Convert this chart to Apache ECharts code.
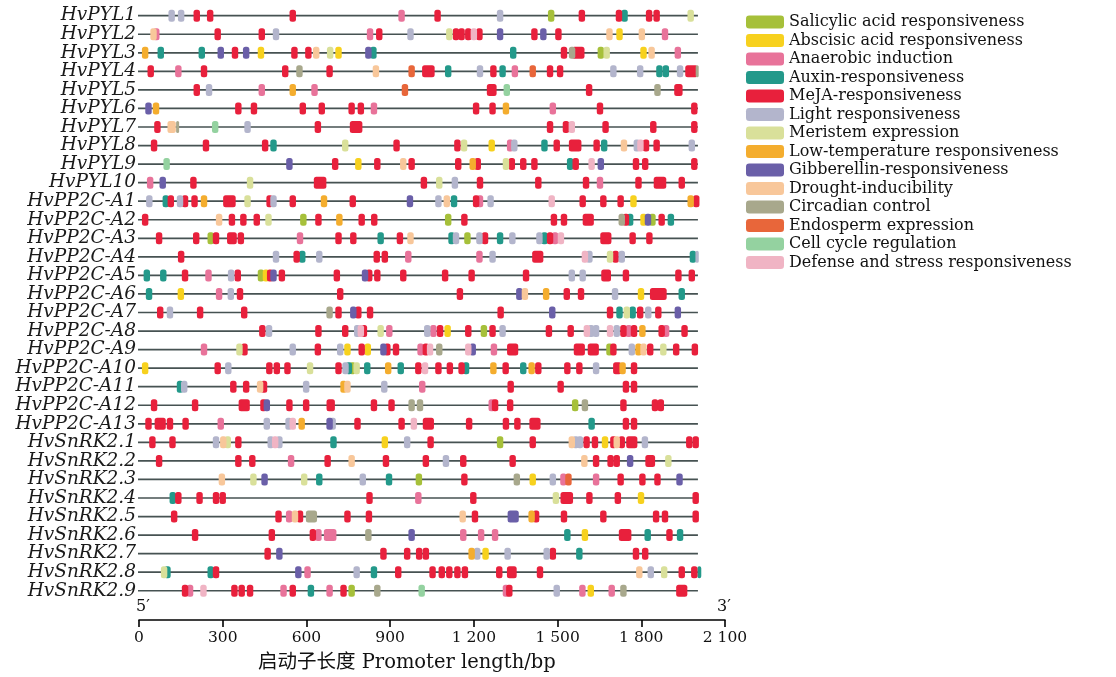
<!DOCTYPE html>
<html><head><meta charset="utf-8">
<script src="https://cdn.jsdelivr.net/npm/echarts@6/dist/echarts.min.js"></script>
<style>html,body{margin:0;background:#fff}#c{width:1116px;height:677px}</style></head>
<body><div id="c"></div>
<script>
// element type codes
const SA=0,ABA=1,AN=2,AUX=3,ME=4,LI=5,MER=6,LT=7,GA=8,DR=9,CI=10,EN=11,CC=12,DE=13;
const typeNames=['Salicylic acid responsiveness','Abscisic acid responsiveness','Anaerobic induction','Auxin-responsiveness','MeJA-responsiveness','Light responsiveness','Meristem expression','Low-temperature responsiveness','Gibberellin-responsiveness','Drought-inducibility','Circadian control','Endosperm expression','Cell cycle regulation','Defense and stress responsiveness'];
const typeColors=['#a6c03a','#f7d11e','#e8739a','#23998a','#e8203c','#b3b5cc','#d9e09a','#f4ad2e','#6a5fa8','#f8c79a','#a8a88c','#e8663a','#94d2a0','#f0b4c4'];

const genes=['HvPYL1','HvPYL2','HvPYL3','HvPYL4','HvPYL5','HvPYL6','HvPYL7','HvPYL8','HvPYL9','HvPYL10',
'HvPP2C-A1','HvPP2C-A2','HvPP2C-A3','HvPP2C-A4','HvPP2C-A5','HvPP2C-A6','HvPP2C-A7','HvPP2C-A8','HvPP2C-A9','HvPP2C-A10','HvPP2C-A11','HvPP2C-A12','HvPP2C-A13',
'HvSnRK2.1','HvSnRK2.2','HvSnRK2.3','HvSnRK2.4','HvSnRK2.5','HvSnRK2.6','HvSnRK2.7','HvSnRK2.8','HvSnRK2.9'];
const promoterLength=2003;
const xTicks=[0,300,600,900,1200,1500,1800,2100];
const axisTitle='启动子长度 Promoter length/bp';

// [position bp, element type, (optional) span bp]
const PYL1=[[117,LI],[151,LI],[207,ME],[255,ME],[551,ME],[941,AN],[1070,ME],[1294,LI],[1477,SA],[1587,ME],[1720,ME],[1740,AUX],[1828,ME],[1855,ME],[1977,MER]];
const PYL2=[[52,DR],[62,AN],[282,ME],[440,ME],[491,LI],[828,AN],[861,ME],[973,LI],[1112,MER],[1136,ME],[1156,ME],[1180,ME],[1200,DE],[1220,ME],[1294,GA],[1417,ME],[1449,GA],[1503,ME],[1686,DR],[1722,ABA],[1802,DR],[1885,AN]];
const PYL3=[[22,LT],[78,AUX],[225,AUX],[293,GA],[344,ME],[384,GA],[437,ABA],[557,ME],[607,ME],[635,DR],[685,MER],[715,ABA],[822,GA],[840,AUX],[1341,AUX],[1523,ME],[1552,CI],[1574,ME,45],[1655,SA],[1676,MER],[1808,ABA],[1837,DR],[1931,AN]];
const PYL4=[[42,ME],[141,AN],[233,ME],[524,ME],[575,CI],[683,ME],[849,DR],[977,EN],[1037,ME,45],[1108,AUX],[1222,LI],[1270,ME],[1303,AUX],[1347,AN],[1411,EN],[1473,ME],[1509,ME],[1700,LI],[1796,LI],[1865,AUX],[1888,AUX],[1939,LI],[1980,ME,45],[2000,CI,10]];
const PYL5=[[207,ME],[251,LI],[440,AN],[551,LT],[629,AN],[953,EN],[1264,ME,35],[1318,CC],[1613,ME],[1858,CI],[1933,ME,30]];
const PYL6=[[34,GA],[61,LT],[356,ME],[412,ME],[587,ME],[655,ME],[762,ME],[795,ME],[842,AN],[1208,ME],[1267,ME],[1315,LT],[1483,AN],[1652,ME],[1990,ME]];
const PYL7=[[66,ME],[117,DR,30],[138,CI,10],[273,CC],[389,LI],[641,ME],[778,ME,45],[1473,ME],[1530,ME],[1551,DE],[1672,ME],[1843,ME],[1990,ME]];
const PYL8=[[54,ME],[240,ME],[452,ME],[482,AUX],[739,MER],[923,ME],[1141,ME],[1165,MER],[1264,ABA],[1330,AN],[1345,LI],[1453,AUX],[1497,ME],[1563,ME,45],[1640,ME],[1667,AUX],[1738,DR],[1784,LI],[1797,DE],[1817,ME],[1855,ME],[1981,LI]];
const PYL9=[[99,CC],[539,GA],[703,ME],[786,ABA],[854,ME],[947,DR],[977,ME],[1144,ME],[1196,LT],[1214,ME],[1315,MER],[1336,ME],[1377,ME],[1417,ME],[1545,AUX],[1565,ME],[1622,DE],[1655,GA],[1781,ME],[1814,ME],[1990,ME]];
const PYL10=[[40,AN],[85,GA],[195,ME],[398,MER],[649,ME,45],[1021,ME],[1076,MER],[1132,LI],[1222,ME],[1431,ME],[1602,ME],[1652,AN],[1790,ME],[1867,ME,45],[1945,ME]];
const A1=[[37,LI],[96,AUX],[114,ME],[147,LI],[165,ME],[199,ME],[233,LT],[324,ME,45],[389,MER],[468,ME],[482,LI],[551,ME],[663,LT],[766,ME],[971,GA],[1073,LI],[1103,DR],[1129,AUX],[1208,ME],[1222,AN],[1260,LI],[1479,DE],[1590,ME],[1664,ME],[1726,ME],[1772,ABA],[1977,LT],[1997,ME]];
const A2=[[22,ME],[287,DR],[333,ME],[374,ME],[422,ME],[464,MER],[589,SA],[643,ME],[718,LT],[798,ME],[843,ME],[1108,SA],[1166,ME],[1487,ME],[1523,ME],[1610,ME,40],[1730,CI],[1745,ME],[1760,AUX],[1808,ABA],[1824,GA],[1840,SA],[1873,ME],[1906,AUX]];
const A3=[[72,ME],[205,ME],[257,SA],[276,ME],[333,ME,35],[365,ME],[577,AN],[715,ME],[768,ME],[866,AUX],[935,ME],[973,DR],[1120,AUX],[1136,LI],[1177,SA],[1220,LI],[1240,ME],[1294,AUX],[1338,LI],[1435,LI],[1453,AUX],[1473,ME],[1491,AN],[1512,DE],[1673,ME,40],[1769,ME],[1829,ME]];
const A4=[[151,ME],[491,LI],[565,ME],[585,AUX],[646,LI],[852,ME],[881,ME],[965,AN],[1220,AN],[1267,LI],[1429,ME,40],[1598,DE],[1614,LI],[1688,MER],[1708,ME],[1730,LI],[1985,AUX],[2000,LI,12]];
const A5=[[28,AUX],[87,AUX],[165,ME],[249,AN],[330,LI],[354,ME],[437,SA],[455,ABA],[470,ME],[482,GA],[512,ME],[709,ME],[810,GA],[825,ME],[854,ME],[947,ME],[1097,ME],[1192,ME],[1387,ME],[1551,LI],[1590,LI],[1674,ME,35],[1745,ME],[1933,ME],[1981,ME]];
const A6=[[36,AUX],[150,ABA],[287,AN],[329,LI],[362,ME],[721,ME],[1150,ME],[1363,GA],[1383,DR],[1459,LT],[1533,ME],[1584,ME],[1706,LI],[1799,ABA],[1861,ME,60],[1945,AUX]];
const A7=[[76,ME],[111,LI],[219,ME],[377,ME],[683,CI],[715,ME],[768,GA],[786,ME],[828,ME],[1296,ME],[1481,GA],[1688,ME],[1722,AUX],[1748,MER],[1769,AUX],[1796,ME],[1825,LI],[1861,ME],[1931,GA]];
const A8=[[442,ME],[466,LI],[643,ME],[739,ME],[782,LI],[795,DE],[806,ME],[866,MER],[897,AN],[1033,LI],[1055,AN],[1079,ME],[1106,ABA],[1180,ME],[1236,SA],[1267,ME],[1303,LI],[1469,ME],[1547,ME],[1605,DE],[1620,LI],[1638,LI],[1688,DE],[1712,LI],[1736,ME],[1755,AN],[1774,ME],[1804,LT],[1873,ME],[1889,AN],[1955,ME]];
const A9=[[233,AN],[360,MER],[378,ME],[551,LI],[641,ME],[721,LI],[747,ABA],[798,ME],[820,ABA],[876,GA],[890,ME],[921,ME],[1009,AN],[1028,ME],[1043,DE],[1076,CI],[1180,DE],[1196,GA],[1272,AN],[1339,ME,40],[1578,ME,40],[1628,ME,40],[1686,SA],[1700,ME],[1766,LI],[1790,LT],[1808,DR],[1832,ME],[1879,MER],[1925,ME],[1992,ME]];
const A10=[[22,ABA],[282,ME],[320,LI],[467,ME],[494,ME],[532,ME],[613,MER],[715,ME],[740,LI],[752,AUX],[765,SA],[780,MER],[818,AUX],[893,LT],[938,AUX],[1001,ME],[1025,DE],[1073,ME],[1114,ME],[1156,ME],[1172,AUX],[1270,LT],[1314,ME],[1377,AUX],[1407,LT],[1431,ME],[1535,ME],[1578,ME],[1638,LI],[1714,ME,30],[1733,LT],[1774,ME]];
const A11=[[147,AUX],[162,LI],[338,ME],[384,ME],[434,DR],[448,ME],[599,LI],[733,LT],[747,DR],[879,LI],[1015,AN],[1332,ME],[1511,ME],[1745,ME],[1774,ME]];
const A12=[[54,ME],[201,ME],[377,ME,40],[446,ME],[458,GA],[539,ME],[599,ME],[687,ME,30],[842,ME],[905,ME],[977,CI],[1007,CI],[1264,AN],[1276,ME],[1330,ME],[1563,SA],[1598,CI],[1736,ME],[1849,ME],[1870,ME]];
const A13=[[34,ME],[76,ME,40],[111,ME],[167,ME],[293,AN],[458,LI],[536,LI],[551,DE],[583,LT],[683,GA],[694,LI],[783,ME],[941,ME],[985,DE],[1037,ME,40],[1183,ME],[1315,ME],[1356,ME],[1419,ME,40],[1622,AUX],[1745,ME],[1774,ME]];
const S1=[[48,ME],[120,ME],[276,LI],[302,DR],[318,MER],[356,ME],[472,LI],[488,DE],[503,LI],[697,AUX],[881,ABA],[961,LI],[1045,ME],[1294,SA],[1411,ME],[1551,DR],[1565,LI],[1580,LI],[1604,ME],[1634,ME],[1670,ABA],[1700,ME],[1712,DR],[1730,ME],[1766,ME,40],[1813,LI],[1972,ME],[1995,ME]];
const S2=[[72,ME],[356,ME],[406,ME],[545,AN],[676,ME],[762,DR],[885,ME],[1028,ME],[1100,LI],[1162,ME],[1339,ME],[1596,DR],[1638,ME],[1690,ME],[1712,ME],[1760,GA],[1832,ME,35],[1897,MER]];
const S3=[[297,DR],[410,MER],[450,GA],[592,MER],[646,AUX],[802,LI],[896,AUX],[1003,SA],[1166,ME],[1354,CI],[1411,ABA],[1483,LI],[1521,AN],[1539,EN],[1638,AN],[1726,ME],[1804,ME],[1858,ME],[1937,GA]];
const S4=[[121,AUX],[141,ME],[217,ME],[276,ME],[300,ME],[826,ME],[1001,AN],[1198,ME],[1494,MER],[1533,ME,45],[1614,ME],[1716,ME],[1799,ABA],[1995,ME]];
const S5=[[126,ME],[500,ME],[538,AN],[559,DR],[577,ME],[618,CI,40],[747,ME],[824,ME],[1160,DR],[1204,ME],[1341,GA,40],[1407,LT],[1423,ME],[1523,ME],[1664,ME],[1853,ME],[1885,ME],[1995,ME]];
const S6=[[201,ME],[476,ME],[623,ME],[643,AN],[685,AN,45],[822,CI],[977,GA],[1162,AN],[1226,AN],[1276,AN],[1535,AUX],[1598,ABA],[1742,ME,45],[1823,AUX],[1901,ME],[1939,AUX]];
const S7=[[461,ME],[503,GA],[876,ME],[961,ME],[1004,ME],[1028,ME],[1192,LT],[1212,LI],[1242,ABA],[1321,LI],[1461,LI],[1483,ME],[1578,AUX],[1781,ME],[1814,ME]];
const S8=[[90,MER],[102,AUX],[257,AUX],[276,ME],[571,GA],[604,AN],[780,LI],[842,AUX],[929,ME],[1052,ME],[1085,ME],[1112,ME],[1141,ME],[1168,ME],[1291,ME],[1336,ME,35],[1437,ME],[1793,DR],[1834,LI],[1882,MER],[1945,ME],[1990,ME],[2008,AUX,14]];
const S9=[[165,ME],[183,AN],[231,DE],[342,ME],[368,ME],[398,ME],[518,AN],[551,ME],[616,AUX],[683,AN],[733,ME],[762,SA],[854,CI],[1013,CC],[1315,AN],[1327,ME],[1497,LI],[1589,AN],[1619,ABA],[1694,AN],[1736,CI],[1945,ME,40]];

const rows=[PYL1,PYL2,PYL3,PYL4,PYL5,PYL6,PYL7,PYL8,PYL9,PYL10,A1,A2,A3,A4,A5,A6,A7,A8,A9,A10,A11,A12,A13,S1,S2,S3,S4,S5,S6,S7,S8,S9];

const SERIF='DejaVu Serif';
const DEFAULT_SPAN=23;

function boxRenderer(color){
  return function(params, api){
    const v=api.value(0), r=api.value(1), span=api.value(2)||DEFAULT_SPAN;
    const a=api.coord([v-span/2,r]), b=api.coord([v+span/2,r]);
    const w=Math.max(b[0]-a[0],3), h=12;
    return {type:'rect',shape:{x:a[0],y:a[1]-h/2,width:w,height:h,r:2.5},style:{fill:color}};
  };
}

const series=[{
  type:'custom', name:'rowline', silent:true, z:1,
  data:genes.map((g,i)=>[0,i]),
  renderItem:function(params,api){
    const r=api.value(1);
    const a=api.coord([0,r]), b=api.coord([promoterLength,r]);
    return {type:'line',shape:{x1:a[0]-1,y1:a[1],x2:b[0],y2:b[1]},style:{stroke:'#465252',lineWidth:1.7}};
  }
}];
typeNames.forEach((name,t)=>{
  const data=[];
  rows.forEach((arr,ri)=>arr.forEach(e=>{ if(e[1]===t) data.push([e[0],ri,e[2]||DEFAULT_SPAN]); }));
  series.push({type:'custom',name:name,z:2,itemStyle:{color:typeColors[t]},data:data,renderItem:boxRenderer(typeColors[t])});
});

function fmt(v){ return v>=1000 ? String(Math.floor(v/1000))+' '+String(v%1000).padStart(3,'0') : String(v); }

const chart=echarts.init(document.getElementById('c'));
chart.setOption({
  animation:false,
  backgroundColor:'#fff',
  grid:{left:139,top:6.4,width:586,height:593.6},
  legend:{
    data:typeNames, orient:'vertical', left:741, top:9, icon:'roundRect',
    itemWidth:38, itemHeight:13, itemGap:2.5, selectedMode:false,
    textStyle:{fontFamily:SERIF,fontSize:16,color:'#111',lineHeight:16}
  },
  xAxis:{
    type:'value', min:xTicks[0], max:xTicks[xTicks.length-1], interval:300, offset:20,
    axisLine:{show:true,onZero:false,lineStyle:{color:'#000',width:1.6}},
    axisTick:{show:true,length:7,lineStyle:{color:'#000',width:1.6}},
    splitLine:{show:false},
    axisLabel:{formatter:fmt,fontFamily:SERIF,fontSize:15.5,color:'#111',margin:10}
  },
  yAxis:{
    type:'category', data:genes, inverse:true,
    axisLine:{show:false}, axisTick:{show:false}, splitLine:{show:false},
    axisLabel:{interval:0,fontFamily:SERIF,fontStyle:'italic',fontSize:18.5,color:'#1a1a1a',margin:3}
  },
  graphic:[
    {type:'text',left:136,top:599,style:{text:'5′',font:'16px "DejaVu Serif"',fill:'#111'}},
    {type:'text',left:717,top:599,style:{text:'3′',font:'16px "DejaVu Serif"',fill:'#111'}},
    {type:'text',left:258,top:653,style:{text:axisTitle,font:'19.5px "DejaVu Serif", "Noto Sans CJK SC"',fill:'#111'}}
  ],
  series:series
});
</script></body></html>
